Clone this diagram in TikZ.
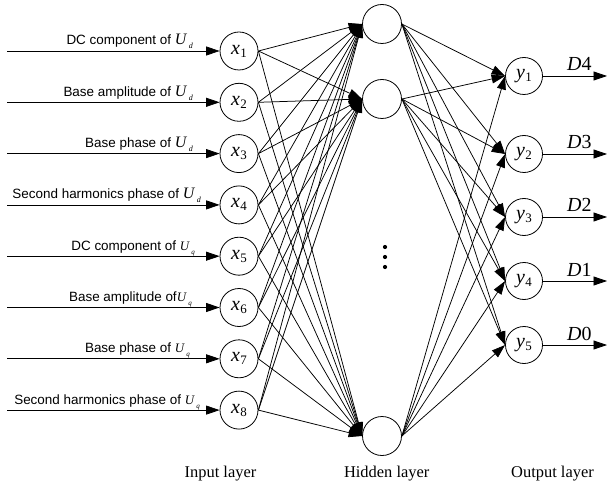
\documentclass[tikz,border=0pt]{standalone}
\usepackage{fontspec}
\setmainfont{Liberation Serif}
\newfontfamily\labfont{Liberation Sans}
\usetikzlibrary{arrows.meta}

% italic symbol with an upright subscript
\newcommand\symsub[4]{{\fontsize{#3}{#3}\selectfont\textit{#1}}\kern0.5bp\raisebox{-0.3em}{\fontsize{#4}{#4}\selectfont #2}}
\newcommand\UsubD{{\fontsize{16}{16}\selectfont\textit{U}}\kern1.5bp\raisebox{-4bp}{\fontsize{8}{8}\selectfont\textit{d}}}
\newcommand\UsubQ{{\fontsize{13}{13}\selectfont\textit{U}}\kern1.5bp\raisebox{-4bp}{\fontsize{7}{7}\selectfont\textit{q}}}
\newcommand\labtext[1]{{\labfont\fontsize{13.5}{13.5}\selectfont #1}}

\begin{document}
\begin{tikzpicture}[x=1bp,y=-1bp,
  neuron/.style={circle,draw,line width=0.8bp,minimum size=38bp,inner sep=0pt},
  conn/.style={line width=0.75bp,-{Triangle[length=13.5bp,width=9bp]}},
  inlabel/.style={anchor=base east,inner sep=0pt},
  outlabel/.style={anchor=base west,inner sep=0pt,font=\fontsize{20}{20}\selectfont},
  layerlabel/.style={anchor=base,inner sep=0pt,font=\fontsize{16.5}{16.5}\selectfont}]
\useasboundingbox (0,0) rectangle (607,485);

% input layer
\foreach \i in {1,...,8}{
  \pgfmathsetmacro\yy{51+(\i-1)*51.3}
  \node[neuron] (x\i) at (239,\yy) {\symsub{x}{\i}{20}{13}};
  \coordinate (s\i) at (7,\yy);
  \draw[conn] (s\i) -- (x\i);
}

% input descriptions
\node[inlabel] (l1) at (193,45)    {\labtext{DC component of }\UsubD};
\node[inlabel] (l2) at (193,96.3)  {\labtext{Base amplitude of }\UsubD};
\node[inlabel] (l3) at (193,147.6) {\labtext{Base phase of }\UsubD};
\node[inlabel] (l4) at (201,198.9) {\labtext{Second harmonics phase of }\UsubD};
\node[inlabel] (l5) at (195,250.2) {\labtext{DC component of }\UsubQ};
\node[inlabel] (l6) at (192,301.5) {\labtext{Base amplitude of}\UsubQ};
\node[inlabel] (l7) at (190,352.8) {\labtext{Base phase of }\UsubQ};
\node[inlabel] (l8) at (200,404.1) {\labtext{Second harmonics phase of }\UsubQ};

% hidden layer
\node[neuron,minimum size=39bp] (h1) at (382,24) {};
\node[neuron,minimum size=39bp] (h2) at (382,99) {};
\node[neuron,minimum size=39bp] (h3) at (382,436) {};
\foreach \d/\yy in {a/247,b/257,c/267}
  \fill (385,\yy) circle (2.1bp) coordinate (dot\d);

% output layer
\foreach \k/\yy in {1/76,2/154,3/217,4/281,5/345}
  \node[neuron,minimum size=37bp] (y\k) at (524,\yy) {\symsub{y}{\k}{20}{13}};

% weights: input -> hidden
\foreach \i in {1,...,8}
  \foreach \j in {1,2,3}
    \draw[conn] (x\i.east) -- (h\j.west);

% weights: hidden -> output
\foreach \j in {1,2,3}
  \foreach \k in {1,...,5}
    \draw[conn] (h\j.east) -- (y\k.west);

% outputs
\foreach \k/\yy/\lab in {1/76/4,2/154/3,3/217/2,4/281/1,5/345/0}{
  \coordinate (o\k) at (607,\yy);
  \draw[conn] (y\k.east) -- (o\k);
  \node[outlabel] (d\k) at (567,\yy-5) {\textit{D}\lab};
}

% layer captions
\node[layerlabel] (capin)  at (220.5,477) {Input layer};
\node[layerlabel] (caphid) at (386.7,477) {Hidden layer};
\node[layerlabel] (capout) at (552.5,477) {Output layer};
\end{tikzpicture}
\end{document}
